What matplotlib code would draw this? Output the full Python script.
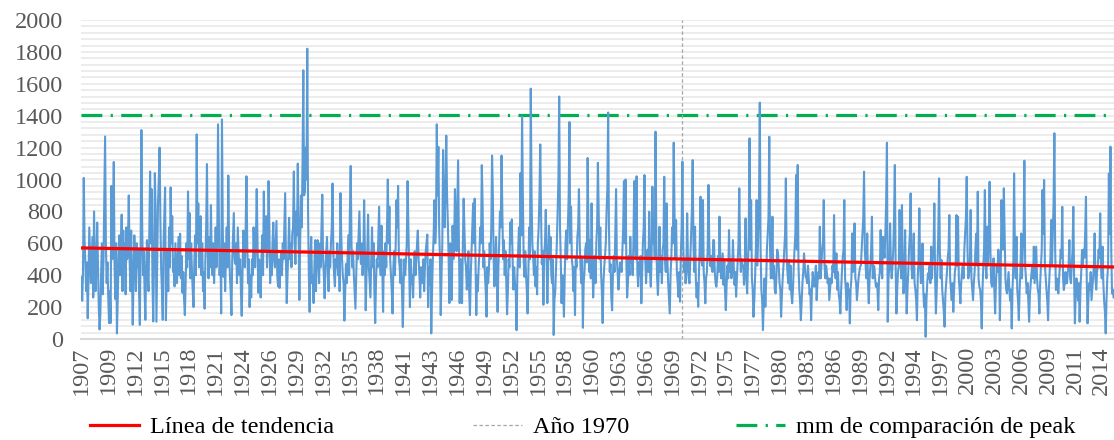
import numpy as np
import matplotlib
matplotlib.use("Agg")
import matplotlib.pyplot as plt
import matplotlib.transforms as mtransforms
from matplotlib.lines import Line2D

# Monthly series (mm), January 1907 to December 2015, one row per year
monthly_mm = [
    390, 240, 400, 1010, 620, 480, 300, 480, 130, 380, 700, 520,      # 1907
    350, 500, 640, 260, 800, 520, 300, 450, 730, 480, 200, 60,        # 1908
    150, 420, 600, 280, 500, 900, 1270, 600, 350, 480, 260, 100,      # 1909
    300, 100, 960, 500, 700, 1110, 450, 250, 600, 35, 245, 500,       # 1910
    650, 400, 550, 780, 300, 680, 450, 600, 280, 700, 500, 620,       # 1911
    900, 520, 300, 680, 420, 90, 380, 650, 500, 300, 600, 450,        # 1912
    560, 300, 88, 600, 1310, 700, 400, 550, 300, 120, 450, 620,       # 1913
    400, 300, 700, 1050, 600, 940, 350, 110, 500, 1040, 800, 108,     # 1914
    500, 850, 1000, 1200, 760, 440, 300, 120, 600, 770, 950, 118,     # 1915
    400, 560, 300, 700, 450, 950, 600, 770, 420, 500, 330, 600,       # 1916
    480, 350, 500, 640, 400, 660, 380, 520, 290, 420, 250, 150,       # 1917
    350, 600, 450, 925, 500, 790, 380, 600, 420, 300, 200, 480,       # 1918
    650, 400, 1283, 600, 850, 450, 550, 770, 400, 600, 300, 420,      # 1919
    190, 500, 700, 1097, 550, 380, 640, 450, 840, 500, 400, 600,      # 1920
    350, 500, 700, 450, 600, 1346, 800, 400, 550, 160, 1377, 700,     # 1921
    390, 600, 300, 500, 700, 450, 1025, 600, 400, 300, 150, 500,      # 1922
    650, 790, 500, 470, 600, 350, 700, 550, 400, 500, 300, 145,       # 1923
    400, 680, 550, 450, 700, 1020, 600, 350, 500, 200, 400, 260,      # 1924
    500, 400, 700, 550, 450, 620, 940, 600, 290, 500, 450, 260,       # 1925
    500, 650, 400, 925, 550, 600, 770, 450, 600, 990, 700, 350,       # 1926
    550, 400, 600, 730, 500, 450, 600, 740, 400, 330, 500, 320,       # 1927
    450, 550, 400, 600, 500, 700, 915, 500, 225, 400, 550, 760,       # 1928
    500, 600, 450, 660, 700, 1050, 600, 470, 800, 650, 1100, 700,     # 1929
    245, 600, 900, 700, 1100, 1685, 900, 925, 1200, 1000, 1820, 800,  # 1930
    400, 170, 500, 640, 350, 400, 225, 450, 620, 300, 500, 620,       # 1931
    500, 350, 600, 450, 700, 905, 500, 400, 255, 450, 550, 640,       # 1932
    400, 300, 550, 450, 600, 700, 975, 550, 400, 330, 500, 450,       # 1933
    600, 400, 550, 300, 915, 650, 500, 400, 350, 115, 300, 470,       # 1934
    350, 500, 650, 400, 800, 1085, 600, 450, 550, 400, 300, 190,      # 1935
    400, 600, 500, 650, 800, 550, 470, 600, 400, 500, 870, 550,       # 1936
    180, 400, 550, 780, 450, 350, 260, 500, 700, 450, 600, 300,       # 1937
    100, 350, 500, 450, 650, 830, 500, 400, 710, 450, 170, 550,       # 1938
    400, 600, 450, 700, 1000, 600, 830, 500, 400, 300, 160, 450,      # 1939
    550, 400, 600, 870, 700, 960, 500, 450, 350, 500, 300, 75,        # 1940
    350, 500, 400, 495, 600, 990, 700, 450, 200, 500, 350, 400,       # 1941
    260, 450, 550, 400, 500, 600, 680, 500, 400, 260, 450, 350,       # 1942
    410, 500, 300, 450, 550, 600, 655, 200, 450, 350, 500, 35,        # 1943
    300, 500, 650, 870, 600, 700, 1346, 900, 1205, 700, 500, 150,     # 1944
    400, 600, 1185, 800, 700, 950, 1275, 900, 730, 500, 225, 600,     # 1945
    400, 245, 710, 500, 600, 940, 700, 550, 850, 1120, 600, 225,      # 1946
    500, 400, 225, 600, 880, 700, 500, 450, 310, 400, 550, 300,       # 1947
    150, 400, 550, 700, 850, 600, 880, 500, 150, 400, 300, 450,       # 1948
    540, 700, 600, 1090, 850, 450, 550, 400, 300, 140, 450, 350,      # 1949
    430, 600, 500, 700, 1150, 900, 500, 330, 450, 640, 400, 170,      # 1950
    450, 600, 800, 700, 1150, 800, 500, 620, 400, 550, 350, 155,      # 1951
    300, 500, 450, 730, 600, 750, 500, 310, 450, 350, 300, 55,        # 1952
    400, 560, 700, 450, 1040, 650, 1395, 900, 500, 390, 550, 400,     # 1953
    300, 160, 450, 700, 500, 1570, 900, 600, 520, 400, 550, 330,      # 1954
    450, 280, 600, 700, 900, 1220, 800, 470, 550, 215, 540, 600,      # 1955
    810, 500, 225, 450, 710, 500, 640, 400, 350, 500, 25, 250,        # 1956
    300, 450, 600, 800, 1000, 1520, 700, 500, 225, 400, 300, 140,     # 1957
    400, 600, 680, 500, 700, 900, 1360, 600, 830, 500, 450, 300,      # 1958
    450, 150, 500, 450, 640, 700, 940, 600, 450, 350, 500, 70,        # 1959
    350, 420, 560, 600, 480, 1135, 700, 420, 620, 380, 850, 500,      # 1960
    260, 400, 520, 350, 600, 700, 1105, 800, 500, 700, 420, 300,      # 1961
    100, 350, 450, 520, 600, 800, 950, 1420, 700, 420, 470, 260,      # 1962
    180, 400, 520, 420, 650, 940, 500, 420, 310, 400, 480, 470,       # 1963
    420, 550, 700, 990, 600, 1000, 500, 260, 350, 520, 400, 641,      # 1964
    480, 520, 400, 600, 990, 700, 500, 1020, 420, 330, 480, 400,      # 1965
    520, 224, 400, 600, 700, 1028, 500, 350, 480, 560, 420, 798,      # 1966
    420, 328, 520, 955, 600, 700, 500, 1300, 600, 380, 276, 420,      # 1967
    704, 420, 520, 350, 560, 600, 1017, 500, 420, 850, 500, 350,      # 1968
    260, 160, 400, 520, 700, 600, 1231, 800, 500, 746, 420, 350,      # 1969
    265, 420, 234, 520, 700, 1112, 600, 420, 500, 349, 420, 788,      # 1970
    500, 380, 349, 500, 650, 800, 1122, 600, 420, 704, 380, 260,      # 1971
    350, 202, 420, 600, 892, 500, 460, 871, 420, 350, 224, 380,       # 1972
    420, 560, 966, 600, 460, 454, 520, 420, 620, 620, 420, 350,       # 1973
    328, 380, 520, 420, 767, 500, 380, 460, 537, 340, 500, 300,       # 1974
    181, 340, 460, 380, 683, 420, 500, 380, 420, 620, 460, 340,       # 1975
    420, 265, 380, 500, 600, 945, 550, 420, 500, 454, 460, 340,       # 1976
    460, 756, 380, 286, 460, 660, 1258, 560, 871, 380, 310, 139,      # 1977
    240, 380, 560, 871, 460, 660, 860, 1482, 560, 310, 240, 56,       # 1978
    240, 380, 202, 350, 560, 660, 760, 1268, 560, 380, 460, 767,      # 1979
    380, 460, 310, 286, 380, 560, 537, 460, 350, 310, 139, 280,       # 1980
    380, 460, 560, 660, 1007, 510, 420, 350, 495, 310, 460, 280,      # 1981
    224, 310, 460, 560, 660, 1028, 560, 1091, 460, 310, 240, 118,     # 1982
    240, 350, 420, 537, 460, 391, 380, 350, 460, 380, 280, 310,       # 1983
    118, 310, 420, 350, 328, 380, 460, 244, 350, 420, 380, 704,       # 1984
    380, 460, 560, 610, 871, 460, 380, 460, 412, 350, 380, 244,       # 1985
    310, 380, 350, 460, 420, 777, 460, 380, 537, 310, 420, 280,       # 1986
    240, 160, 310, 420, 510, 560, 871, 380, 310, 181, 350, 280,       # 1987
    310, 98, 310, 380, 662, 420, 460, 725, 380, 350, 244, 310,        # 1988
    380, 420, 454, 460, 560, 660, 760, 1049, 560, 460, 380, 662,      # 1989
    350, 224, 380, 460, 560, 767, 380, 460, 454, 380, 328, 350,       # 1990
    310, 181, 380, 420, 683, 460, 380, 641, 560, 510, 660, 860,       # 1991
    1231, 108, 380, 460, 725, 460, 380, 454, 560, 760, 1091, 460,     # 1992
    160, 310, 420, 460, 809, 560, 380, 840, 460, 286, 380, 683,       # 1993
    380, 160, 310, 420, 560, 660, 913, 460, 380, 510, 662, 350,       # 1994
    310, 240, 118, 380, 510, 819, 460, 350, 380, 599, 310, 200,       # 1995
    280, 14, 240, 350, 412, 380, 460, 350, 579, 380, 510, 560,        # 1996
    850, 380, 160, 310, 460, 660, 1007, 560, 380, 495, 310, 240,      # 1997
    170, 77, 280, 350, 420, 510, 560, 777, 380, 310, 244, 350,        # 1998
    170, 310, 420, 460, 777, 460, 767, 380, 310, 224, 350, 420,       # 1999
    460, 380, 560, 660, 760, 1017, 560, 380, 412, 460, 809, 380,      # 2000
    310, 244, 350, 420, 560, 660, 460, 924, 380, 328, 310, 240,       # 2001
    66, 310, 460, 560, 934, 460, 380, 704, 460, 660, 986, 560,        # 2002
    350, 328, 380, 506, 310, 160, 350, 460, 420, 560, 475, 118,       # 2003
    380, 871, 662, 560, 945, 662, 380, 310, 286, 350, 420, 310,       # 2004
    240, 310, 66, 310, 460, 1038, 560, 380, 641, 310, 240, 118,       # 2005
    310, 420, 662, 380, 560, 660, 1118, 460, 380, 286, 350, 240,      # 2006
    108, 280, 350, 412, 460, 380, 579, 350, 460, 579, 380, 310,       # 2007
    280, 160, 350, 460, 560, 934, 660, 997, 460, 380, 310, 240,       # 2008
    118, 310, 420, 510, 746, 460, 660, 860, 1290, 560, 307, 380,      # 2009
    350, 286, 380, 460, 560, 510, 829, 380, 307, 350, 420, 349,       # 2010
    350, 420, 460, 620, 380, 350, 460, 560, 829, 380, 98, 280,        # 2011
    380, 310, 240, 350, 108, 310, 420, 558, 460, 560, 510, 660,       # 2012
    892, 380, 98, 240, 350, 310, 420, 244, 310, 380, 460, 662,        # 2013
    380, 310, 420, 460, 560, 510, 788, 460, 380, 579, 350, 240,       # 2014
    170, 35, 240, 380, 460, 1038, 660, 1206, 560, 286, 310, 260,      # 2015
]

first_year = 1907
label_step = 34                 # one category label every 34 months
peak_reference_mm = 1405        # comparison level for peaks
marker_year, marker_month = 1970, 6

series_color = "#5B9BD5"
trend_color = "#FF0000"
peak_color = "#00B050"
marker_color = "#A6A6A6"
label_color = "#595959"

plt.rcParams["font.family"] = ["Liberation Serif", "DejaVu Serif"]
plt.rcParams["lines.scale_dashes"] = False

values = np.array(monthly_mm, dtype=float)
n = len(values)
idx = np.arange(n)
years = first_year + idx // 12

# least-squares trend over the whole record
slope, intercept = np.polyfit(idx, values, 1)
trend = intercept + slope * idx

fig = plt.figure(figsize=(11.14, 4.40), dpi=100)
ax = fig.add_axes([81 / 1114, 101 / 440, 1 - 81 / 1114, 319 / 440])

ax.set_ylim(0, 2000)
ax.set_xlim(-0.5, n - 0.5)
ax.set_yticks(np.arange(0, 2001, 200))
ax.set_yticks(np.arange(0, 2001, 40), minor=True)
ax.grid(which="both", axis="y", color="#EBEBEB", linewidth=1.3, zorder=0)
ax.set_axisbelow(True)

for side in ("top", "right", "left"):
    ax.spines[side].set_visible(False)
ax.spines["bottom"].set_color("#D9D9D9")
ax.spines["bottom"].set_linewidth(1.5)

ax.tick_params(axis="y", which="both", length=0, pad=13, labelsize=17.5,
               labelcolor=label_color)

# category labels every 34 months, written vertically under the axis
ax.set_xticks([])
label_trans = mtransforms.blended_transform_factory(ax.transData, ax.transAxes)
label_offset = mtransforms.ScaledTranslation(0, -7 / 100, fig.dpi_scale_trans)
for pos in idx[::label_step]:
    ax.text(pos, 0, str(years[pos]), transform=label_trans + label_offset,
            rotation=90, rotation_mode="default", ha="center", va="top",
            fontsize=17.5, color=label_color, clip_on=False)

ax.plot([-0.5, n - 0.5], [peak_reference_mm, peak_reference_mm],
        color=peak_color, linewidth=2.3, zorder=2,
        dashes=(15, 6, 1.6, 6), dash_capstyle="butt")

marker_x = (marker_year - first_year) * 12 + (marker_month - 1)
ax.axvline(marker_x, color=marker_color, linewidth=0.9, dashes=(2.5, 1.8), zorder=3)

ax.plot(idx, values, color=series_color, linewidth=1.5, zorder=4,
        solid_joinstyle="round")
ax.plot(idx, trend, color=trend_color, linewidth=2.3, zorder=5)

# legend entries placed individually along the bottom edge
entries = [
    (Line2D([], [], color=trend_color, linewidth=2.3), "Línea de tendencia", 90),
    (Line2D([], [], color=marker_color, linewidth=0.9, dashes=(2.5, 1.8)), "Año 1970", 473),
    (Line2D([], [], color=peak_color, linewidth=2.3, dashes=(15, 6, 1.6, 6),
            dash_capstyle="butt"), "mm de comparación de peak", 736),
]
for handle, text, x_px in entries:
    fig.legend([handle], [text], loc="center left",
               bbox_to_anchor=(x_px / 1114, 13 / 440), frameon=False,
               fontsize=17.5, handlelength=2.0, handletextpad=0.45,
               borderpad=0, borderaxespad=0)

fig.savefig("out.png", dpi=100)
